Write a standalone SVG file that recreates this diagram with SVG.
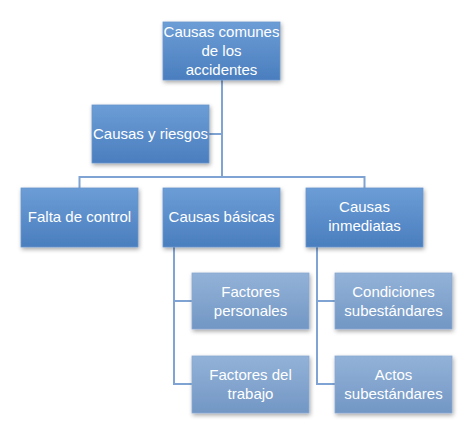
<svg xmlns="http://www.w3.org/2000/svg" width="474" height="422" viewBox="0 0 474 422">
<defs>
<linearGradient id="gMain" x1="0" y1="0" x2="0" y2="1">
<stop offset="0" stop-color="#6c9dd6"/>
<stop offset="1" stop-color="#4a7ebe"/>
</linearGradient>
<linearGradient id="gSub" x1="0" y1="0" x2="0" y2="1">
<stop offset="0" stop-color="#93b2d8"/>
<stop offset="1" stop-color="#7297c4"/>
</linearGradient>
<filter id="sh" x="-20%" y="-20%" width="140%" height="150%">
<feDropShadow dx="1" dy="2" stdDeviation="2" flood-color="#000" flood-opacity="0.35"/>
</filter>
</defs>
<style>
.main{fill:url(#gMain);stroke:#6a96cc;stroke-width:0.8;filter:url(#sh)}
.sub{fill:url(#gSub);stroke:#8aa9d2;stroke-width:0.8;filter:url(#sh)}
.t{font-family:"Liberation Sans","Arial",sans-serif;font-size:15px;fill:#ffffff;text-anchor:middle}
.c{stroke:#7fa4d3;stroke-width:2;fill:none}
</style>
<rect width="474" height="422" fill="#ffffff"/>
<g id="connectors">
<path class="c" d="M222,80 V178"/>
<path class="c" d="M209,134 H222"/>
<path class="c" d="M79.5,188 V177 H364.5 V188"/>
<path class="c" d="M174,247 V384 H192"/>
<path class="c" d="M174,301 H192"/>
<path class="c" d="M317,247 V384 H335"/>
<path class="c" d="M317,301 H335"/>
</g>
<g id="n-top">
<rect class="main" x="163" y="22" width="117" height="58"/>
<text class="t" x="221.5" y="37">Causas comunes</text>
<text class="t" x="221.5" y="56">de los</text>
<text class="t" x="221.5" y="75">accidentes</text>
</g>
<g id="n-riesgos">
<rect class="main" x="92" y="105" width="117" height="58"/>
<text class="t" x="150.5" y="139">Causas y riesgos</text>
</g>
<g id="n-falta">
<rect class="main" x="21" y="188" width="117" height="59"/>
<text class="t" x="79.5" y="222">Falta de control</text>
</g>
<g id="n-basicas">
<rect class="main" x="163" y="188" width="117" height="59"/>
<text class="t" x="221.5" y="222">Causas básicas</text>
</g>
<g id="n-inmediatas">
<rect class="main" x="306" y="188" width="117" height="59"/>
<text class="t" x="364.5" y="212">Causas</text>
<text class="t" x="364.5" y="231">inmediatas</text>
</g>
<g id="n-personales">
<rect class="sub" x="192" y="273" width="117" height="56"/>
<text class="t" x="250.5" y="297">Factores</text>
<text class="t" x="250.5" y="316">personales</text>
</g>
<g id="n-trabajo">
<rect class="sub" x="192" y="356" width="117" height="57"/>
<text class="t" x="250.5" y="380">Factores del</text>
<text class="t" x="250.5" y="399">trabajo</text>
</g>
<g id="n-condiciones">
<rect class="sub" x="335" y="273" width="117" height="56"/>
<text class="t" x="393.5" y="297">Condiciones</text>
<text class="t" x="393.5" y="316">subestándares</text>
</g>
<g id="n-actos">
<rect class="sub" x="335" y="356" width="117" height="57"/>
<text class="t" x="393.5" y="380">Actos</text>
<text class="t" x="393.5" y="399">subestándares</text>
</g>
</svg>
